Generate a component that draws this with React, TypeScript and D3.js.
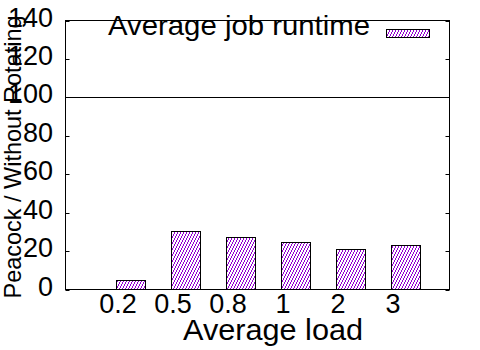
import React from "react";
import * as d3 from "d3";

const categories = ["0.2", "0.5", "0.8", "1", "2", "3"];
const values = [4.7, 30.2, 27.1, 24.5, 21.3, 23.1];
const yTicks = [0, 20, 40, 60, 80, 100, 120, 140];
const refLine = 100;
const seriesName = "Average job runtime";
const xTitle = "Average load";
const yTitle = "Peacock / Without Rotating";

const W = 480;
const H = 350;
const left = 65.5;
const right = 449.5;
const top = 20.5;
const bottom = 289.5;
const FONT = "'Liberation Sans', Arial, sans-serif";
const HATCH = "#9400d3";

export default function App() {
  const x = d3.scaleLinear().domain([-0.955, 6.027]).range([left, right]);
  const y = d3.scaleLinear().domain([0, 140]).range([bottom, top]);
  const barOff = -0.045;
  const barW = x(0.52) - x(0);

  return (
    <svg
      width={W}
      height={H}
      style={{ position: "absolute", left: 0, top: 0, background: "#fff" }}
    >
      <defs>
        <pattern id="hatch" patternUnits="userSpaceOnUse" width={3} height={6}>
          <rect width={3} height={6} fill="#fff" />
          <path
            d="M-1,8 L3,0 M2,8 L6,0 M-4,8 L0,0"
            stroke={HATCH}
            strokeWidth={1}
            shapeRendering="crispEdges"
          />
        </pattern>
      </defs>
      {/* bars */}
      {values.map((v, i) => (
        <rect
          key={categories[i]}
          x={Math.round(x(i + barOff)) + 0.5}
          y={Math.round(y(v)) + 0.5}
          width={Math.round(barW)}
          height={y(0) - Math.round(y(v)) - 0.5}
          fill="url(#hatch)"
          stroke="#000"
          strokeWidth={1}
        />
      ))}
      {/* reference line */}
      <line x1={left} x2={right} y1={Math.round(y(refLine)) + 0.5} y2={Math.round(y(refLine)) + 0.5} stroke="#000" strokeWidth={1} />
      {/* y ticks */}
      {yTicks.map((t) => {
        const yy = Math.round(y(t)) + 0.5;
        return (
          <g key={t}>
            <line x1={left} x2={left + 4} y1={yy} y2={yy} stroke="#000" />
            <line x1={right - 4} x2={right} y1={yy} y2={yy} stroke="#000" />
            <text
              x={53}
              y={yy + 5}
              textAnchor="end"
              fontFamily={FONT}
              fontSize={27}
              fill="#000"
            >
              {t}
            </text>
          </g>
        );
      })}
      {/* x tick labels */}
      {categories.map((c, i) => (
        <text
          key={c}
          x={x(i)}
          y={313}
          textAnchor="middle"
          fontFamily={FONT}
          fontSize={27}
          fill="#000"
        >
          {c}
        </text>
      ))}
      {/* border */}
      <rect x={left} y={top} width={right - left} height={bottom - top} fill="none" stroke="#000" strokeWidth={1} />
      {/* legend */}
      <text
        x={370}
        y={35}
        textAnchor="end"
        fontFamily={FONT}
        fontSize={28}
        textLength={262}
        lengthAdjust="spacingAndGlyphs"
        fill="#000"
      >
        {seriesName}
      </text>
      <rect x={386.5} y={29.5} width={43} height={8} fill="url(#hatch)" stroke="#000" strokeWidth={1} />
      {/* axis titles */}
      <text
        x={273}
        y={340}
        textAnchor="middle"
        fontFamily={FONT}
        fontSize={30}
        textLength={180}
        lengthAdjust="spacingAndGlyphs"
        fill="#000"
      >
        {xTitle}
      </text>
      <text
        transform="translate(21,157) rotate(-90)"
        textAnchor="middle"
        fontFamily={FONT}
        fontSize={24}
        textLength={283}
        lengthAdjust="spacingAndGlyphs"
        fill="#000"
      >
        {yTitle}
      </text>
    </svg>
  );
}
